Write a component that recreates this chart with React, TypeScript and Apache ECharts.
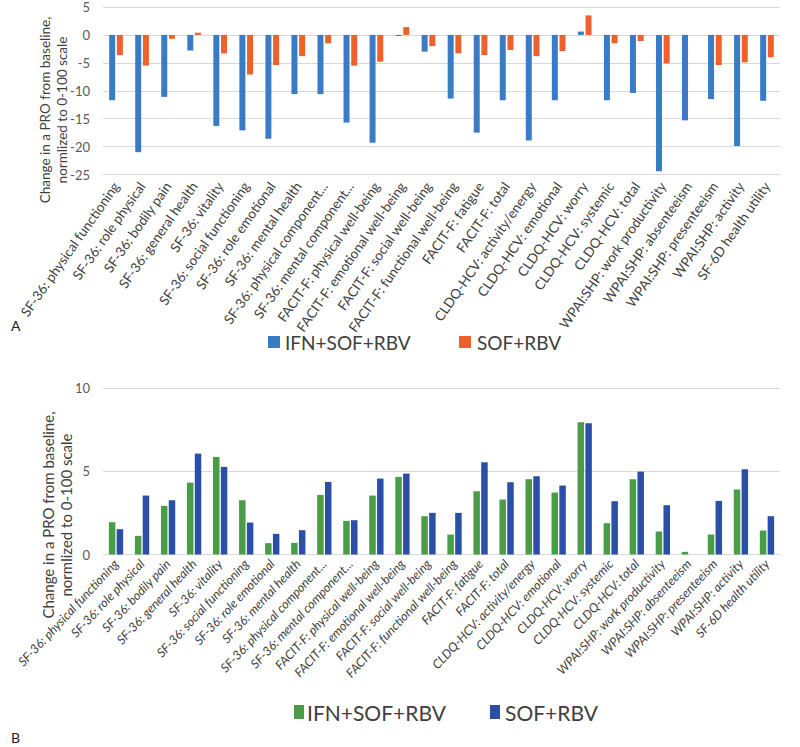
import React, { useEffect, useRef } from "react";
import * as echarts from "echarts";

const categories = [
  "SF-36: physical functioning",
  "SF-36: role physical",
  "SF-36: bodily pain",
  "SF-36: general health",
  "SF-36: vitality",
  "SF-36: social functioning",
  "SF-36: role emotional",
  "SF-36: mental health",
  "SF-36: physical component...",
  "SF-36: mental component...",
  "FACIT-F: physical well-being",
  "FACIT-F: emotional well-being",
  "FACIT-F: social well-being",
  "FACIT-F: functional well-being",
  "FACIT-F: fatigue",
  "FACIT-F: total",
  "CLDQ-HCV: activity/energy",
  "CLDQ-HCV: emotional",
  "CLDQ-HCV: worry",
  "CLDQ-HCV: systemic",
  "CLDQ-HCV: total",
  "WPAI:SHP: work productivity",
  "WPAI:SHP: absenteeism",
  "WPAI:SHP: presenteeism",
  "WPAI:SHP: activity",
  "SF-6D health utility",
];

const seriesNames = ["IFN+SOF+RBV", "SOF+RBV"];

// Panel A
const aIfnSofRbv = [
  -11.7, -21.0, -11.1, -2.8, -16.3, -17.1, -18.6, -10.6, -10.6, -15.7, -19.3, -0.2, -3.0,
  -11.4, -17.5, -11.7, -18.9, -11.7, 0.6, -11.7, -10.4, -24.4, -15.3, -11.5, -19.9, -11.8,
];
const aSofRbv = [
  -3.6, -5.5, -0.7, 0.4, -3.3, -7.1, -5.4, -3.8, -1.5, -5.5, -4.8, 1.4, -2.0,
  -3.3, -3.6, -2.7, -3.8, -2.9, 3.5, -1.5, -1.1, -5.1, 0, -5.4, -4.9, -4.0,
];

// Panel B
const bIfnSofRbv = [
  1.94, 1.12, 2.92, 4.32, 5.86, 3.26, 0.68, 0.7, 3.58, 2.02, 3.54, 4.66, 2.3,
  1.2, 3.8, 3.3, 4.52, 3.72, 7.94, 1.88, 4.52, 1.38, 0.16, 1.2, 3.9, 1.44,
];
const bSofRbv = [
  1.52, 3.54, 3.26, 6.06, 5.26, 1.92, 1.24, 1.46, 4.36, 2.06, 4.56, 4.86, 2.5,
  2.5, 5.54, 4.34, 4.7, 4.14, 7.88, 3.2, 4.98, 2.96, -0.06, 3.22, 5.12, 2.3,
];

const axisTitle = "Change in a PRO from baseline,\nnormlized to 0-100 scale";

const FONT = "Lato, 'Open Sans', sans-serif";
const C_BLUE_A = "#3a7bc6";
const C_ORANGE_A = "#f0602a";
const C_GREEN_B = "#4b9c46";
const C_BLUE_B = "#2b4fa6";
const GRID_LINE = "#d9d9d9";
const TEXT = "#404040";

export default function App() {
  const ref = useRef<HTMLDivElement>(null);

  useEffect(() => {
    document.body.style.margin = "0";
    if (!ref.current) return;
    const chart = echarts.init(ref.current, undefined, { renderer: "svg" });

    const valueAxisCommon = {
      type: "value" as const,
      axisLine: { show: false },
      axisTick: { show: false },
      splitLine: { lineStyle: { color: GRID_LINE, width: 1 } },
      axisLabel: { fontSize: 13, color: "#595959", margin: 13, fontFamily: FONT },
    };

    chart.setOption({
      animation: false,
      backgroundColor: "#ffffff",
      grid: [
        { left: 103, right: 20, top: 7, height: 167.5 },
        { left: 103, right: 20, top: 388, height: 166.5 },
      ],
      xAxis: [
        {
          type: "category",
          gridIndex: 0,
          data: categories,
          axisLine: { show: false, onZero: false },
          axisTick: { show: false },
          axisLabel: {
            interval: 0,
            rotate: 55,
            fontSize: 13.5,
            color: TEXT,
            margin: 9,
            fontFamily: FONT,
          },
        },
        {
          type: "category",
          gridIndex: 1,
          data: categories,
          axisLine: { show: false, onZero: false },
          axisTick: { show: false },
          axisLabel: {
            interval: 0,
            rotate: 47,
            fontSize: 12.5,
            fontStyle: "italic",
            color: TEXT,
            margin: 7,
            fontFamily: FONT,
          },
        },
      ],
      yAxis: [
        { ...valueAxisCommon, gridIndex: 0, min: -25, max: 5, interval: 5 },
        { ...valueAxisCommon, gridIndex: 1, min: 0, max: 10, interval: 5 },
      ],
      series: [
        {
          name: seriesNames[0],
          type: "bar",
          xAxisIndex: 0,
          yAxisIndex: 0,
          data: aIfnSofRbv,
          barWidth: 6,
          barGap: "28%",
          itemStyle: { color: C_BLUE_A },
        },
        {
          name: seriesNames[1],
          type: "bar",
          xAxisIndex: 0,
          yAxisIndex: 0,
          data: aSofRbv,
          barWidth: 6,
          barGap: "28%",
          itemStyle: { color: C_ORANGE_A },
        },
        {
          name: seriesNames[0] + " ",
          type: "bar",
          xAxisIndex: 1,
          yAxisIndex: 1,
          data: bIfnSofRbv,
          barWidth: 6.5,
          barGap: "20%",
          itemStyle: { color: C_GREEN_B },
        },
        {
          name: seriesNames[1] + " ",
          type: "bar",
          xAxisIndex: 1,
          yAxisIndex: 1,
          data: bSofRbv,
          barWidth: 6.5,
          barGap: "20%",
          itemStyle: { color: C_BLUE_B },
        },
      ],
      graphic: [
        {
          type: "text",
          x: 53.5,
          y: 110,
          rotation: Math.PI / 2,
          style: {
            text: axisTitle,
            fontSize: 13.5,
            lineHeight: 17,
            fontFamily: FONT,
            fill: TEXT,
            align: "center",
            verticalAlign: "middle",
          },
        },
        {
          type: "text",
          x: 57,
          y: 515,
          rotation: Math.PI / 2,
          style: {
            text: axisTitle,
            fontSize: 15,
            lineHeight: 18,
            fontFamily: FONT,
            fill: TEXT,
            align: "center",
            verticalAlign: "middle",
          },
        },
        // Legend A
        { type: "rect", shape: { x: 268, y: 336, width: 12, height: 12 }, style: { fill: C_BLUE_A } },
        {
          type: "text",
          x: 285,
          y: 342,
          style: { text: seriesNames[0], fontSize: 19, fontFamily: FONT, fill: TEXT, verticalAlign: "middle" },
        },
        { type: "rect", shape: { x: 459, y: 336, width: 12, height: 12 }, style: { fill: C_ORANGE_A } },
        {
          type: "text",
          x: 477,
          y: 342,
          style: { text: seriesNames[1], fontSize: 19, fontFamily: FONT, fill: TEXT, verticalAlign: "middle" },
        },
        // Legend B
        { type: "rect", shape: { x: 294, y: 705, width: 10, height: 14 }, style: { fill: C_GREEN_B } },
        {
          type: "text",
          x: 307,
          y: 712,
          style: { text: seriesNames[0], fontSize: 21, fontFamily: FONT, fill: TEXT, verticalAlign: "middle" },
        },
        { type: "rect", shape: { x: 490, y: 705, width: 10, height: 14 }, style: { fill: C_BLUE_B } },
        {
          type: "text",
          x: 505,
          y: 712,
          style: { text: seriesNames[1], fontSize: 21, fontFamily: FONT, fill: TEXT, verticalAlign: "middle" },
        },
        // Panel letters
        { type: "text", x: 11, y: 325, style: { text: "A", fontSize: 14, fontFamily: FONT, fill: "#222", verticalAlign: "middle" } },
        { type: "text", x: 11, y: 737, style: { text: "B", fontSize: 14, fontFamily: FONT, fill: "#222", verticalAlign: "middle" } },
      ],
    });

    return () => {
      chart.dispose();
    };
  }, []);

  return <div ref={ref} style={{ width: 800, height: 747, position: "absolute", left: 0, top: 0 }} />;
}
